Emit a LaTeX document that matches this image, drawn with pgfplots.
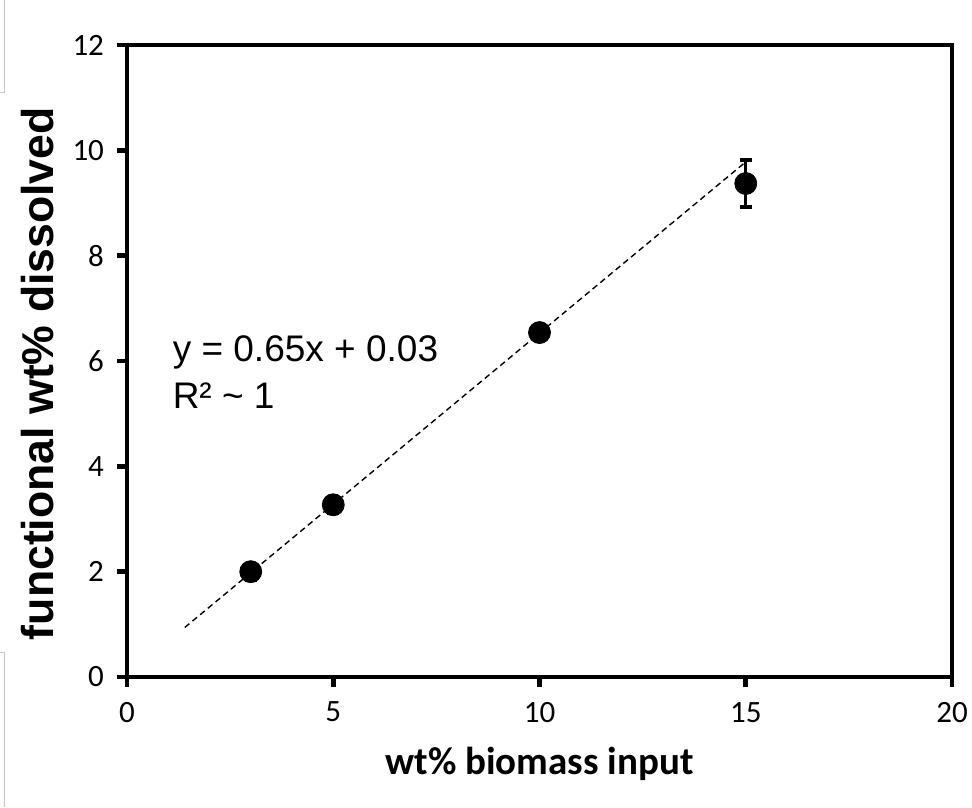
\documentclass[border=0pt]{standalone}
\usepackage{pgfplots}
\pgfplotsset{compat=1.18}
\usepackage{fontspec}
\setmainfont{Liberation Sans}
\newfontfamily\tickfont{Carlito}
\begin{document}
\begin{tikzpicture}
\path[use as bounding box] (-63.5pt,-65pt) rectangle (422.5pt,338.5pt);
\draw[gray!45, line width=0.5pt] (-63.5pt,292pt) -- (-61pt,292pt) -- (-61pt,338.5pt);
\draw[gray!45, line width=0.5pt] (-63.5pt,12pt) -- (-61pt,12pt) -- (-61pt,-65pt);
\begin{axis}[
  at={(0,0)}, anchor=south west,
  scale only axis, width=412.5pt, height=316pt,
  xmin=0, xmax=20, ymin=0, ymax=12,
  xtick={0,5,...,20}, ytick={0,2,...,12},
  axis line style={line width=2.3pt},
  tick style={line width=2.3pt, black},
  tick align=outside, major tick length=5pt,
  xtick pos=bottom, ytick pos=left,
  /pgf/number format/assume math mode=true,
  tick label style={font=\tickfont\fontsize{15.5}{16}\selectfont},
  xticklabel style={yshift=-4pt},
  yticklabel style={xshift=-3pt},
  xlabel={wt\% biomass input},
  ylabel={functional wt\% dissolved},
  xlabel style={font=\tickfont\bfseries\fontsize{19.5}{21}\selectfont, at={(axis description cs:0.5,-0.1535)}, anchor=base},
  ylabel style={font=\bfseries\fontsize{22.3}{24}\selectfont, at={(axis description cs:-0.108,0.48)}, anchor=center},
  clip=false,
]
\addplot[black, line width=0.7pt, dash pattern=on 3pt off 2pt] coordinates {(1.4,0.94) (15,9.78)};
\addplot[black, only marks, mark=*, mark size=5.5pt,
  error bars/.cd, y dir=both, y explicit,
  error bar style={line width=1.6pt},
  error mark options={rotate=90, mark size=3pt, line width=2pt}]
  coordinates {
  (3,2.0) +- (0,0.15)
  (5,3.27) +- (0,0.15)
  (10,6.54) +- (0,0.15)
  (15,9.37) +- (0,0.45)
  };
\node[anchor=base west, font=\fontsize{18.5}{22}\selectfont, inner sep=0pt] at (axis cs:1.1,5.99) {y = 0.65x + 0.03};
\node[anchor=base west, font=\fontsize{18.5}{22}\selectfont, inner sep=0pt] at (axis cs:1.1,5.107) {R² \textasciitilde{} 1};
\end{axis}
\end{tikzpicture}
\end{document}
